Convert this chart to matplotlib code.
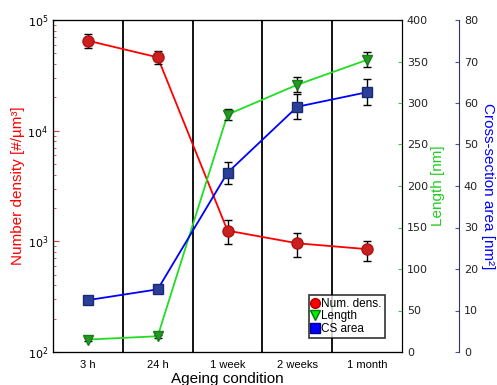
import matplotlib
matplotlib.use("Agg")
import matplotlib.pyplot as plt
from matplotlib.lines import Line2D
import numpy as np

conditions = ["3 h", "24 h", "1 week", "2 weeks", "1 month"]

num_density = [6.5e4, 4.6e4, 1250, 960, 850]
num_density_hi = [7.4e4, 5.2e4, 1550, 1200, 1015]
num_density_lo = [5.6e4, 4.0e4, 950, 720, 670]

length = [15, 19, 286, 322, 352]
length_err = [2, 2, 7, 9, 9]

cs_area = [12.5, 15.1, 43.2, 59.1, 62.6]
cs_area_err = [0.8, 0.8, 2.7, 3.0, 3.1]

x = np.arange(len(conditions))
label_font = ["Liberation Sans", "DejaVu Sans"]

fig = plt.figure(figsize=(4.97, 3.85), dpi=100)
ax = fig.add_axes([53 / 497, 1 - 352 / 385, (402 - 53) / 497, (352 - 20) / 385])

# number density on log scale
yerr_nd = [np.subtract(num_density, num_density_lo), np.subtract(num_density_hi, num_density)]
ax.plot(x, num_density, color="#ff0000", lw=1.3, zorder=3)
ax.errorbar(x, num_density, yerr=yerr_nd, fmt="o", ms=8, mfc="#cc1f1f", mec="#aa1515",
            ecolor="black", elinewidth=1.0, capsize=3, capthick=1.0, zorder=4)
ax.set_yscale("log")
ax.set_ylim(1e2, 1e5)
ax.set_xlim(-0.5, 4.5)
ax.set_xticks(x)
ax.set_xticklabels(conditions, fontsize=8, family=label_font)
ax.tick_params(axis="x", length=0, pad=6)
ax.tick_params(axis="y", which="both", direction="in", colors="#d04040", labelcolor="black", labelsize=8)
ax.tick_params(axis="y", which="major", length=4)
ax.tick_params(axis="y", which="minor", length=2)
ax.set_ylabel("Number density [#/µm³]", color="#ff0000", fontsize=11, family=label_font, labelpad=2)
ax.set_xlabel("Ageing condition", fontsize=11, family=label_font, labelpad=1)
for b in [0.5, 1.5, 2.5, 3.5]:
    ax.axvline(b, color="black", lw=1.3, zorder=1)

# length axis
ax2 = ax.twinx()
ax2.plot(x, length, color="#22dd22", lw=1.3, zorder=3)
ax2.errorbar(x, length, yerr=length_err, fmt="v", ms=7, mfc="#229922", mec="#1a7a1a",
             ecolor="black", elinewidth=1.0, capsize=3, capthick=1.0, zorder=4)
ax2.set_ylim(0, 400)
ax2.set_yticks(np.arange(0, 401, 50))
ax2.tick_params(axis="y", direction="in", colors="#55bb55", labelcolor="#222222", labelsize=8, length=3)
ax2.set_ylabel("Length [nm]", color="#22cc22", fontsize=11, family=label_font, labelpad=2)

# cross-section area axis, spine pushed 57 px to the right
ax3 = ax.twinx()
ax3.spines["right"].set_position(("outward", 57 * 72 / 100))
ax3.spines["right"].set_color("#333355")
ax3.plot(x, cs_area, color="#0000ff", lw=1.3, zorder=3)
ax3.errorbar(x, cs_area, yerr=cs_area_err, fmt="s", ms=7, mfc="#2b3f9a", mec="#1a2a70",
             ecolor="black", elinewidth=1.0, capsize=3, capthick=1.0, zorder=4)
ax3.set_ylim(0, 80)
ax3.set_yticks(np.arange(0, 81, 10))
ax3.tick_params(axis="y", direction="in", colors="#4455aa", labelcolor="#222222", labelsize=8, length=3)
ax3.set_ylabel("Cross-section area [nm²]", color="#0000ff", fontsize=11, family=label_font,
               rotation=270, labelpad=12)

# legend
handles = [
    Line2D([], [], ls="none", marker="o", ms=7, mfc="#ff0000", mec="#aa0000"),
    Line2D([], [], ls="none", marker="v", ms=7, mfc="#00ee00", mec="#007700"),
    Line2D([], [], ls="none", marker="s", ms=7, mfc="#0000ff", mec="#000088"),
]
leg = ax3.legend(handles, ["Num. dens.", "Length", "CS area"], loc="lower left",
                 bbox_to_anchor=((309 - 53) / 349, (352 - 338) / 332),
                 prop={"family": label_font, "size": 8.5}, frameon=True, fancybox=False,
                 handlelength=0.6, handletextpad=0.2, borderpad=0.25, labelspacing=0.05,
                 borderaxespad=0)
leg.get_frame().set_edgecolor("black")
leg.get_frame().set_linewidth(1.2)

fig.savefig("out.png", dpi=100)
